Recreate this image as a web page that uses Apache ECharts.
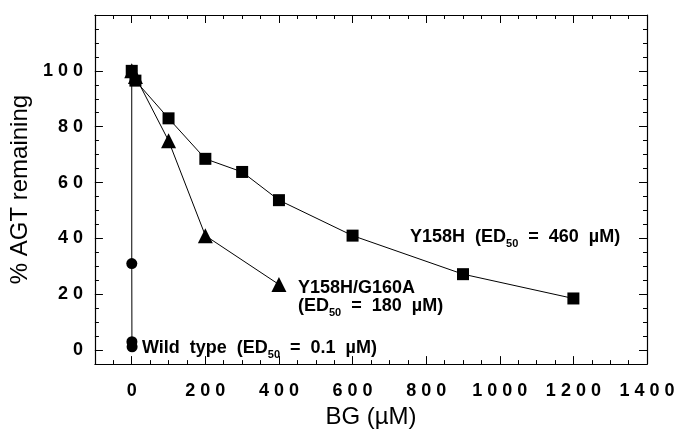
<!DOCTYPE html>
<html>
<head>
	<meta charset="utf-8" />
	<script src="https://cdn.jsdelivr.net/npm/echarts@6/dist/echarts.min.js"></script>
</head>
<body style="margin: 0; background-color: #ffffff">
	<div id="main" style="width: 679px; height: 434px;"></div>
</body>
<script type="text/javascript">
	// BG (uM) vs % AGT remaining
	var y158hX = [0, 10, 100, 200, 300, 400, 600, 900, 1200];
	var y158hY = [100, 96.5, 83, 68.5, 63.8, 53.7, 41, 27.2, 18.5];
	var g160aX = [0, 10, 100, 200, 400];
	var g160aY = [100, 98, 75, 41, 23.5];
	var wildX = [0, 0.1, 0.5, 1];
	var wildY = [100, 31, 3, 1.2];

	var xMajor = [0, 200, 400, 600, 800, 1000, 1200, 1400];
	var yMajor = [0, 20, 40, 60, 80, 100, 120];

	function pairs(xs, ys) {
		return xs.map(function (x, i) { return [x, ys[i]]; });
	}
	function spaced(v) {
		return String(v).split('').join(' ');
	}

	var black = '#000000';
	var tickFont = { color: black, fontFamily: 'Liberation Sans', fontWeight: 'bold', fontSize: 18 };

	function xAx(pos, major, labels) {
		var ax = {
			type: 'value', position: pos, min: -100, max: 1400,
			splitLine: { show: false },
			axisLine: { show: !major, onZero: false, lineStyle: { color: black, width: 1.2 } },
			axisTick: { show: true, inside: true, length: major ? 8 : 4, lineStyle: { color: black } },
			axisLabel: { show: false }
		};
		if (major) {
			ax.axisTick.customValues = xMajor;
		} else {
			ax.interval = 50;
		}
		if (labels) {
			ax.axisLabel = Object.assign({ show: true, interval: 0, margin: 18,
				formatter: function (v) { return (v >= 0 && v % 200 === 0) ? spaced(v) : ''; } }, tickFont);
			ax.name = 'BG (\u00b5M)';
			ax.nameLocation = 'middle';
			ax.nameGap = 40;
			ax.nameTextStyle = { color: black, fontFamily: 'Liberation Sans', fontSize: 24 };
		}
		return ax;
	}
	function yAx(pos, major, labels) {
		var ax = {
			type: 'value', position: pos, min: -5, max: 120,
			splitLine: { show: false },
			axisLine: { show: !major, onZero: false, lineStyle: { color: black, width: 1.2 } },
			axisTick: { show: true, inside: true, length: major ? 8 : 4, lineStyle: { color: black } },
			axisLabel: { show: false }
		};
		if (major) {
			ax.axisTick.customValues = yMajor;
		} else {
			ax.interval = 5;
		}
		if (labels) {
			ax.axisLabel = Object.assign({ show: true, interval: 0, margin: 12,
				formatter: function (v) { return (v >= 0 && v <= 100 && v % 20 === 0) ? spaced(v) : ''; } }, tickFont);
			ax.name = '% AGT remaining';
			ax.nameLocation = 'middle';
			ax.nameGap = 48;
			ax.nameTextStyle = { color: black, fontFamily: 'Liberation Sans', fontSize: 24 };
		}
		return ax;
	}

	function series(name, xs, ys, symbol, size) {
		return {
			name: name, type: 'line', data: pairs(xs, ys),
			xAxisIndex: 0, yAxisIndex: 0,
			symbol: symbol, symbolSize: size,
			lineStyle: { color: black, width: 1 },
			itemStyle: { color: black },
			emphasis: { disabled: true },
			animation: false, z: 3
		};
	}

	var annoFont = { fontFamily: 'Liberation Sans', fontWeight: 'bold', fontSize: 18, fill: black };
	var subRich = { sub: { fontFamily: 'Liberation Sans', fontWeight: 'bold', fontSize: 11, padding: [13, 0, 0, 0] } };
	function anno(text, left, top) {
		return {
			type: 'text', left: left, top: top, z: 10,
			style: Object.assign({ text: text, rich: subRich }, annoFont)
		};
	}

	var myChart = echarts.init(document.getElementById('main'));
	var option = {
		backgroundColor: '#ffffff',
		animation: false,
		grid: { left: 90, right: 32, top: 15, bottom: 67, containLabel: false },
		xAxis: [xAx('bottom', false, true), xAx('bottom', true, false), xAx('top', false, false), xAx('top', true, false)],
		yAxis: [yAx('left', false, true), yAx('left', true, false), yAx('right', false, false), yAx('right', true, false)],
		series: [
			series('Wild type', wildX, wildY, 'circle', 11),
			series('Y158H/G160A', g160aX, g160aY, 'triangle', 15),
			series('Y158H', y158hX, y158hY, 'rect', 12)
		],
		graphic: [
			anno('Y158H  (ED{sub|50}  =  460  \u00b5M)', 410, 228),
			anno('Y158H/G160A', 298, 279),
			anno('(ED{sub|50}  =  180  \u00b5M)', 298, 297),
			anno('Wild  type  (ED{sub|50}  =  0.1  \u00b5M)', 142, 339)
		]
	};
	myChart.setOption(option);
</script>
</html>
